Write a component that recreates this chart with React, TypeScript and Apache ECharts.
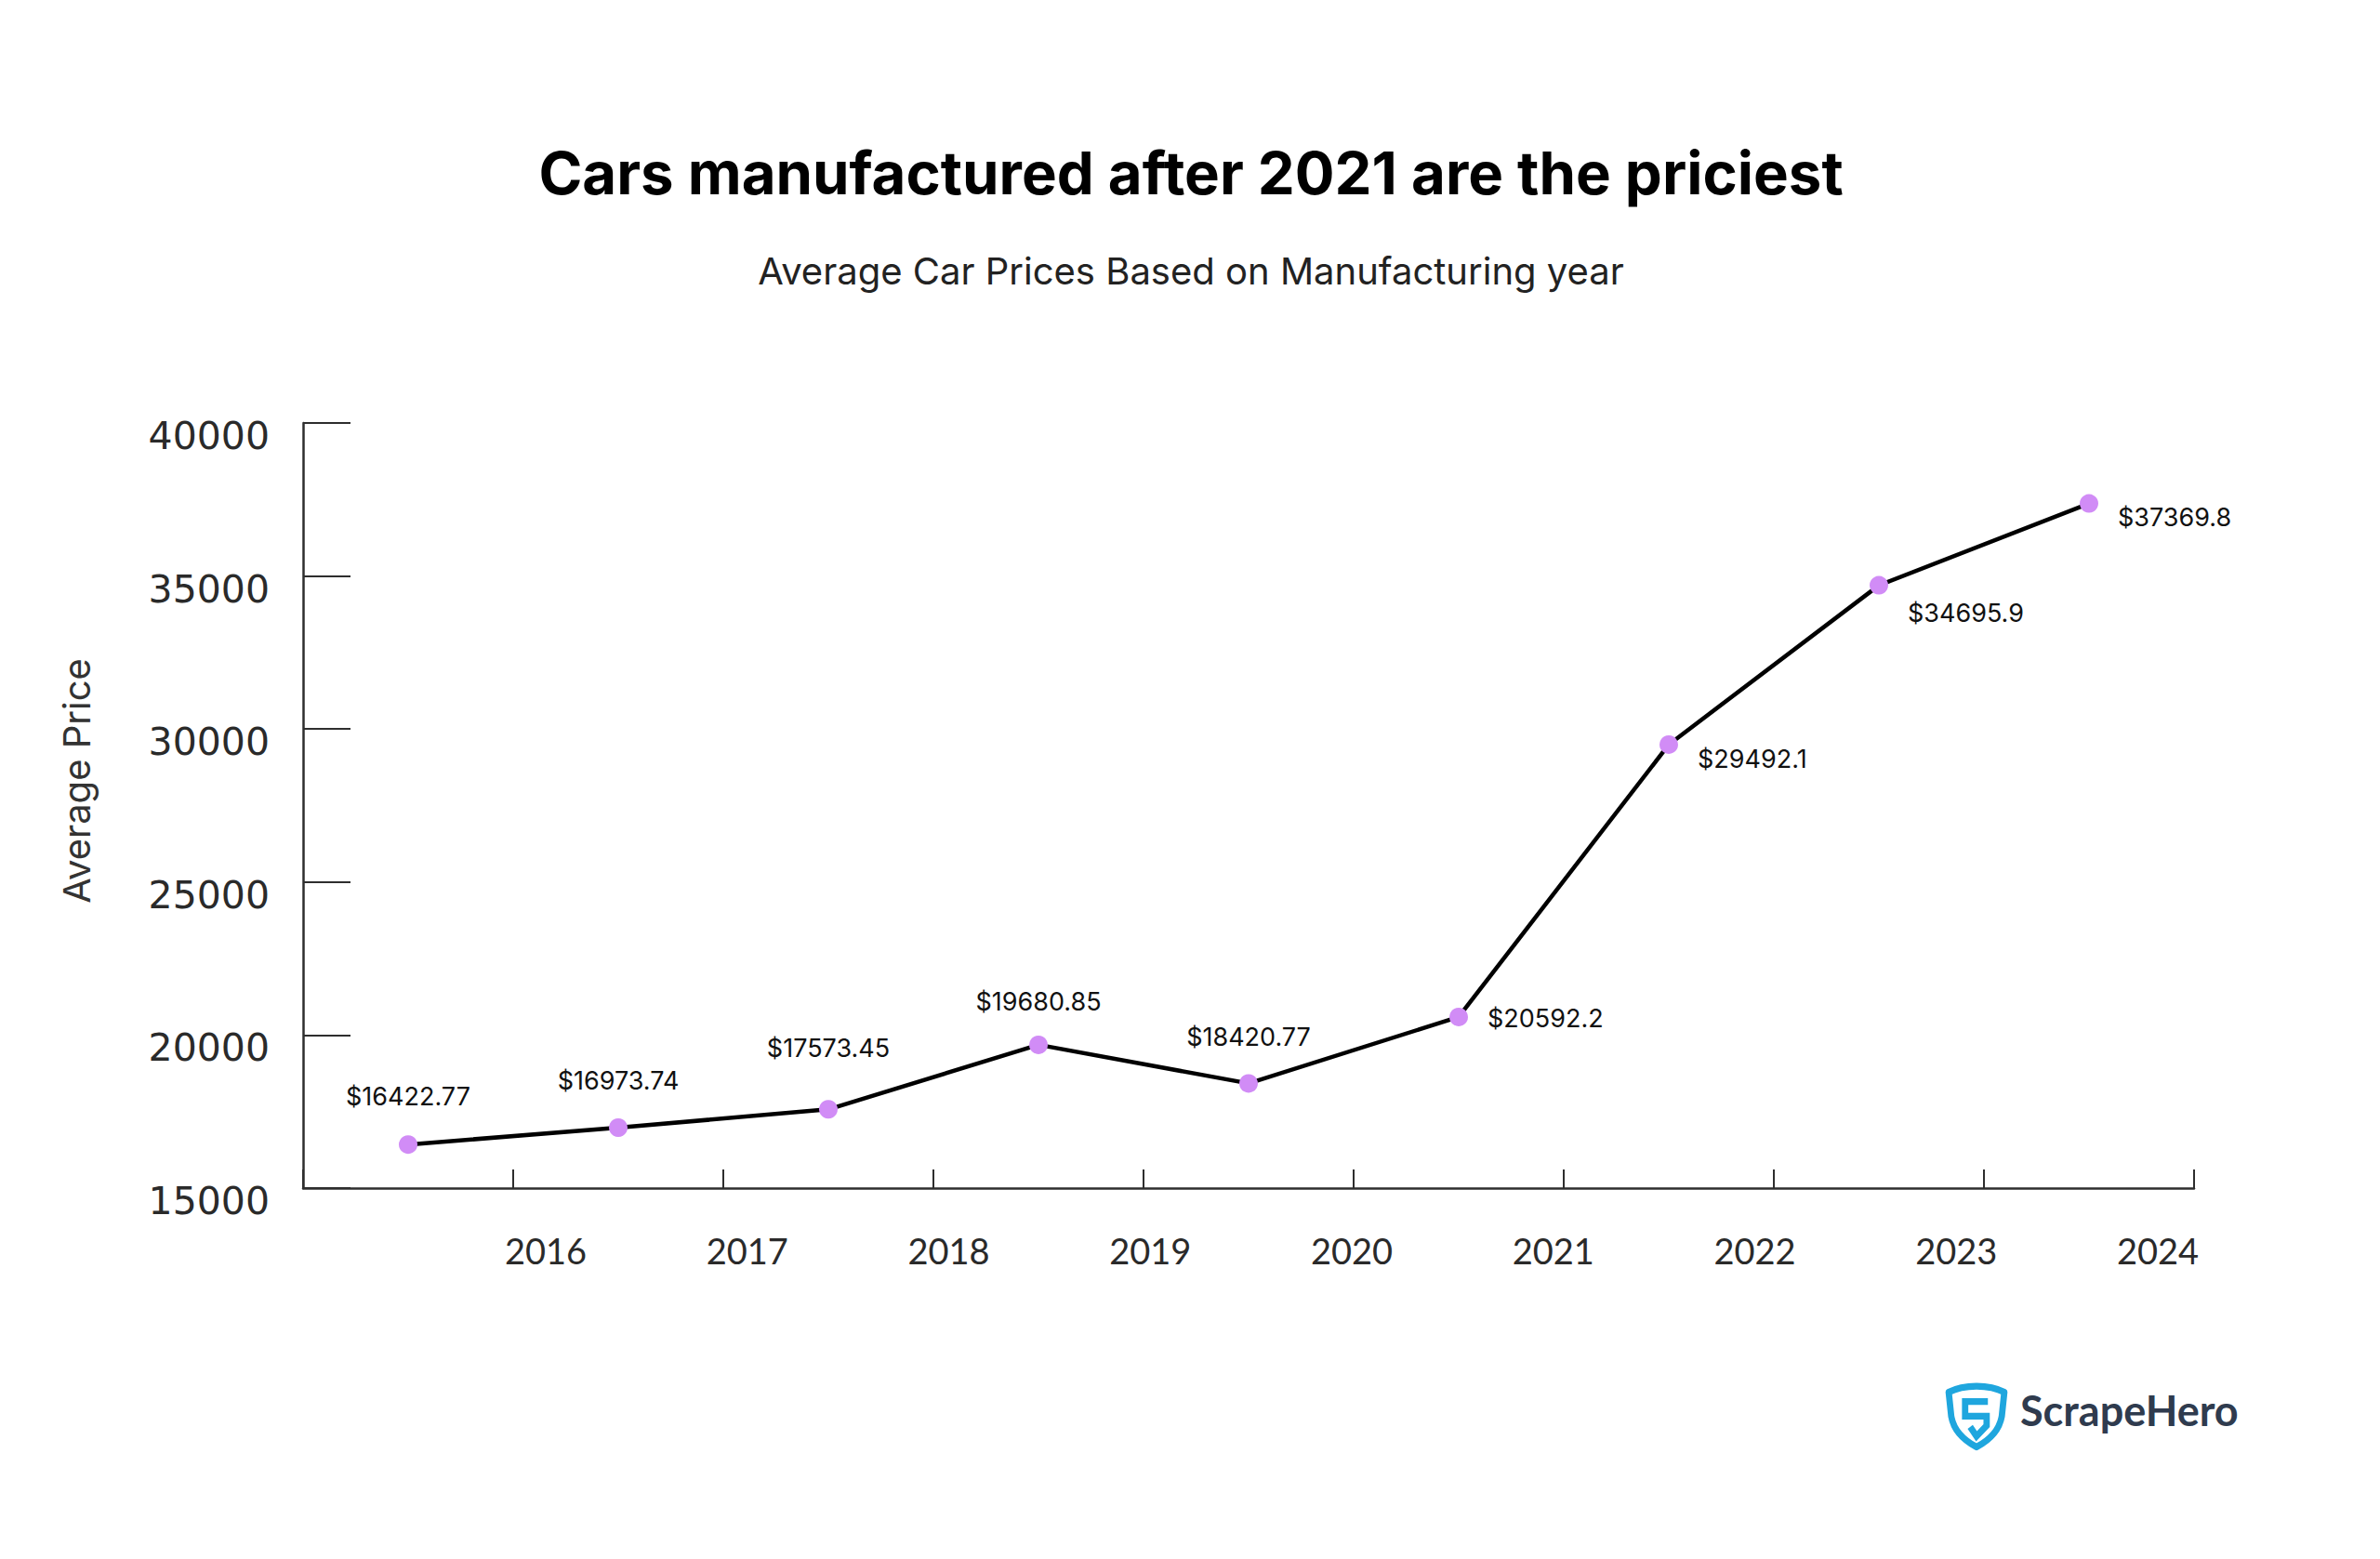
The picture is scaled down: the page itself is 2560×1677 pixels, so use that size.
import React, { useEffect, useRef } from "react";
import * as echarts from "echarts";

const titleText = "Cars manufactured after 2021 are the priciest";
const subtitleText = "Average Car Prices Based on Manufacturing year";
const yAxisName = "Average Price";
const categories = ["2016", "2017", "2018", "2019", "2020", "2021", "2022", "2023", "2024"];
const avgPrices = [16422.77, 16973.74, 17573.45, 19680.85, 18420.77, 20592.2, 29492.1, 34695.9, 37369.8];
const yearTickLabels = [2016, 2017, 2018, 2019, 2020, 2021, 2022, 2023, 2024];
const yMin = 15000;
const yMax = 40000;
const yStep = 5000;
const brandName = "ScrapeHero";

const shieldPath = "M6,16 C30,4 70,4 94,16 L90,52 C86,74 70,88 50,98 C30,88 14,74 10,52 Z";
const sPath = "M68,30 L32,30 L32,52 L66,52 L66,66 L50,82 L40,68";

// label placement style per point index (style only, not data)
const topLabelDistance: Record<number, number> = { 0: 28, 1: 27, 2: 42, 3: 23, 4: 26 };
const rightLabelDy: Record<number, number> = { 5: 2, 6: 16, 7: 30, 8: 15 };

export default function App() {
  const ref = useRef<HTMLDivElement>(null);
  useEffect(() => {
    if (!ref.current) return;
    echarts.graphic.registerShape("shieldOutline", echarts.graphic.extendPath(shieldPath, {}));
    echarts.graphic.registerShape("shieldS", echarts.graphic.extendPath(sPath, {}));
    const chart = echarts.init(ref.current, undefined, { renderer: "svg" });
    const axisColor = "#2e2e2e";
    chart.setOption({
      animation: false,
      backgroundColor: "#ffffff",
      grid: { left: 326, right: 200, top: 455, bottom: 399, containLabel: false },
      xAxis: [
        {
          type: "category",
          data: categories,
          boundaryGap: true,
          axisLine: { show: true, lineStyle: { color: axisColor, width: 2.5 } },
          axisTick: { show: true, inside: true, length: 20, interval: 0, alignWithLabel: false, lineStyle: { color: axisColor, width: 2 } },
          axisLabel: { show: false },
          splitLine: { show: false },
        },
        {
          type: "value",
          position: "bottom",
          min: 2014.796,
          max: 2024.18,
          axisLine: { show: false },
          axisTick: { show: false },
          splitLine: { show: false },
          axisLabel: {
            show: true,
            customValues: yearTickLabels,
            formatter: (v: number) => (Number.isInteger(v) ? String(v) : ""),
            margin: 48,
            fontFamily: "Lato",
            fontSize: 38,
            color: "#2a2a2a",
          },
        },
      ],
      yAxis: {
        type: "value",
        min: yMin,
        max: yMax,
        interval: yStep,
        axisLine: { show: true, lineStyle: { color: axisColor, width: 2.5 } },
        axisTick: { show: true, inside: true, length: 51, lineStyle: { color: axisColor, width: 2 } },
        splitLine: { show: false },
        axisLabel: {
          margin: 36,
          fontFamily: "DejaVu Sans",
          fontSize: 41,
          color: "#2a2a2a",
          verticalAlign: "top",
          lineHeight: 28,
          formatter: (v: number) => String(v),
        },
      },
      series: [
        {
          type: "line",
          xAxisIndex: 0,
          yAxisIndex: 0,
          data: avgPrices.map((v, i) =>
            i >= 5
              ? { value: v, label: { position: "right", distance: 21, offset: [0, rightLabelDy[i] ?? 12] } }
              : { value: v, label: { position: "top", distance: topLabelDistance[i] ?? 26 } }
          ),
          symbol: "circle",
          symbolSize: 20,
          itemStyle: { color: "#d18cf6" },
          lineStyle: { color: "#000000", width: 4.5 },
          label: {
            show: true,
            position: "top",
            formatter: (p: any) => "$" + p.value,
            fontFamily: "Inter",
            fontSize: 27,
            color: "#111111",
          },
        },
      ],
      graphic: [
        {
          type: "text",
          x: 1281,
          y: 185,
          style: { text: titleText, fontFamily: "Inter", fontWeight: 700, fontSize: 63.5, fill: "#000000", align: "center", verticalAlign: "middle" },
        },
        {
          type: "text",
          x: 1281,
          y: 291,
          style: { text: subtitleText, fontFamily: "Inter", fontSize: 40, fill: "#222222", align: "center", verticalAlign: "middle" },
        },
        {
          type: "text",
          x: 82,
          y: 840,
          rotation: Math.PI / 2,
          style: { text: yAxisName, fontFamily: "Inter", fontSize: 40, fill: "#333333", align: "center", verticalAlign: "middle" },
        },
        {
          type: "shieldOutline",
          x: 2092,
          y: 1486,
          scaleX: 0.68,
          scaleY: 0.72,
          style: { fill: "none", stroke: "#1fa6de", lineWidth: 10, lineJoin: "round" },
        },
        {
          type: "shieldS",
          x: 2092,
          y: 1486,
          scaleX: 0.68,
          scaleY: 0.72,
          style: { fill: "none", stroke: "#1fa6de", lineWidth: 10, lineJoin: "miter" },
        },
        {
          type: "text",
          x: 2173,
          y: 1517,
          style: { text: brandName, fontFamily: "Lato", fontWeight: 700, fontSize: 45, fill: "#2f3b4e", align: "left", verticalAlign: "middle" },
        },
      ],
    });
    return () => chart.dispose();
  }, []);
  return <div ref={ref} style={{ position: "fixed", left: 0, top: 0, width: "2560px", height: "1677px" }} />;
}
